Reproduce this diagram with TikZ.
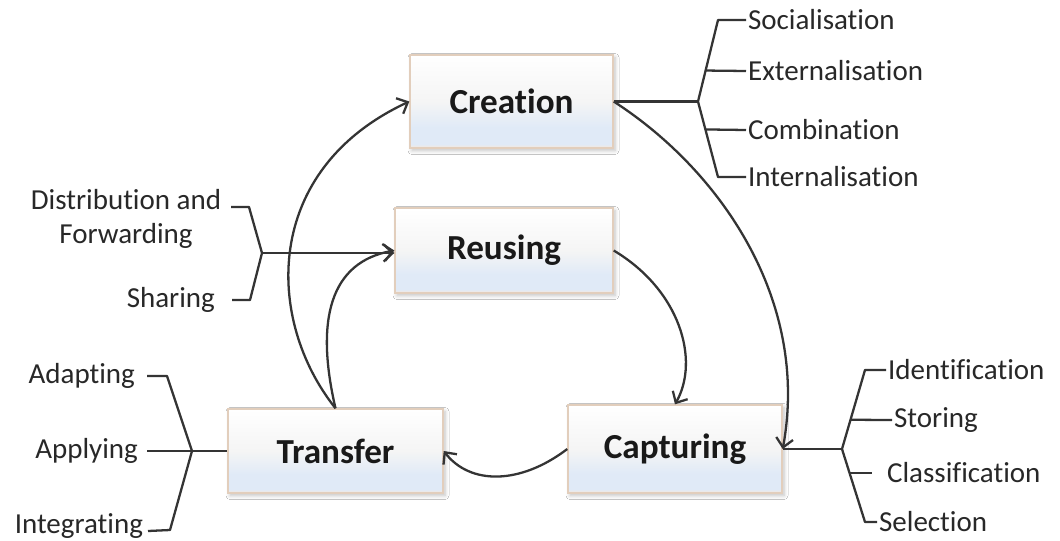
\documentclass[tikz,border=0pt]{standalone}
\usepackage{fontspec}
\setmainfont{Carlito}[Ligatures=NoCommon]
\usepackage{tikz}
\usetikzlibrary{arrows.meta, calc, shadows.blur}
\definecolor{boxline}{RGB}{226,206,188}
\definecolor{boxpeach}{RGB}{250,232,214}
\definecolor{boxbottom}{RGB}{224,234,247}
\definecolor{linegray}{RGB}{52,52,52}
\definecolor{textgray}{RGB}{40,40,40}
\def \itemfont {\fontsize{16.5}{19.5}\selectfont}
\pgfdeclareverticalshading{stagefill}{100bp}{color(0bp)=(boxpeach); color(25bp)=(boxpeach); color(27bp)=(boxbottom); color(36bp)=(boxbottom); color(50bp)=(white!96!black); color(75bp)=(white); color(100bp)=(white)}

\begin{document}
\begin{tikzpicture}[
	  x=0.2mm, y=-0.2mm,
	  stage/.style={
	  	rectangle,
	  	draw=boxline,
	  	line width=0.8pt,
	  	shading=stagefill,
	  	text=black!90,
	  	font=\fontsize{20}{24}\selectfont\bfseries,
	  	blur shadow={shadow blur steps=5, shadow xshift=.4mm, shadow yshift=-.5mm, shadow opacity=25, shadow blur radius=.8mm}
	  },
	  item/.style={
		  font=\itemfont,
		  text=textgray,
		  inner sep=1pt
	  },
	  link/.style={
		  draw=linegray,
		  line width=1.3pt,
		  -{Straight Barb[length=1.8mm, width=3.4mm]}
	  },
	  brace/.style={
		  draw=linegray,
		  line width=1.3pt,
		  line join=round
	  }]
	\fill[white] (0,0) rectangle (1060,540);
	\useasboundingbox (0,0) rectangle (1060,540);
	% Stages
	\node[stage, minimum width=40.6mm, minimum height=18.6mm] (creation) at (511.5,101.5) {Creation};
	\node[stage, minimum width=43.6mm, minimum height=17mm] (reusing) at (504,250.5) {Reusing};
	\node[stage, minimum width=43mm, minimum height=16.8mm] (transfer) at (335.5,451) {Transfer};
	\node[stage, minimum width=42.8mm, minimum height=17.6mm] (capturing) at (675,449) {Capturing};
	% Items
	\node[item, anchor=west] (soc) at (746,20) {Socialisation};
	\node[item, anchor=west] (ext) at (746,71) {Externalisation};
	\node[item, anchor=west] (comb) at (746,130) {Combination};
	\node[item, anchor=west] (intl) at (746,177) {Internalisation};
	\node[item, align=center] (dist) at (126,219) {Distribution and\\Forwarding};
	\node[item, anchor=east] (shar) at (217,300) {Sharing};
	\node[item, anchor=east] (adap) at (137,376) {Adapting};
	\node[item, anchor=east] (appl) at (140,451) {Applying};
	\node[item, anchor=east] (integ) at (145,526) {Integrating};
	\node[item, anchor=west] (ident) at (886,370) {Identification};
	\node[item, anchor=west] (stor) at (892,420) {Storing};
	\node[item, anchor=west] (clas) at (885,473) {Classification};
	\node[item, anchor=west] (sel) at (877,522) {Selection};
	% Cycle
	\draw[link] (transfer.north) .. controls (265,320) and (262,170) .. (creation.west);
	\draw[link] (transfer.north) .. controls (315,320) and (330,262) .. (reusing.west);
	\draw[link] (reusing.east) .. controls (680,290) and (700,360) .. (capturing.north);
	\draw[link] (creation.east) .. controls (720,170) and (810,300) .. (capturing.east);
	\draw[link] (capturing.west) .. controls (520,485) and (470,485) .. (transfer.east);
	% Creation bracket
	\coordinate (cj) at (698,101.5);
	\coordinate (cup) at (718,20);
	\coordinate (cdown) at (718,177);
	\draw[brace] (creation.east) -- (cj);
	\draw[brace] (soc.west) -- (cup) -- (cj) -- (cdown) -- (intl.west);
	\draw[brace] ($(cj)!0.38!(cup)$) -- (ext.west);
	\draw[brace] ($(cj)!0.37!(cdown)$) -- (comb.west);
	% Reusing bracket
	\coordinate (rj) at (262,253);
	\coordinate (rup) at (249,207);
	\coordinate (rdown) at (250,300);
	\coordinate (dtick) at (231,207);
	\coordinate (stick) at (232,300);
	\draw[brace] (dtick) -- (rup) -- (rj) -- (rdown) -- (stick);
	\draw[link] (rj) -- (reusing.west |- rj);
	% Transfer bracket
	\coordinate (tj) at (192,451);
	\coordinate (tup) at (167,376);
	\coordinate (tdown) at (170,530);
	\coordinate (atick) at (147,376);
	\coordinate (ptick) at (147,451);
	\coordinate (gtick) at (148,531);
	\draw[brace] (atick) -- (tup) -- (tj) -- (tdown) -- (gtick);
	\draw[brace] (ptick) -- (tj) -- (transfer.west);
	% Capturing bracket
	\coordinate (kj) at (842,449);
	\coordinate (kup) at (865,370);
	\coordinate (kdown) at (865,522);
	\draw[brace] (capturing.east) -- (kj);
	\draw[brace] (ident.west) -- (kup) -- (kj) -- (kdown) -- (sel.west);
	\draw[brace] ($(kj)!0.37!(kup)$) -- (stor.west);
	\draw[brace] ($(kj)!0.33!(kdown)$) -- ++(22,0);
\end{tikzpicture}
\end{document}
